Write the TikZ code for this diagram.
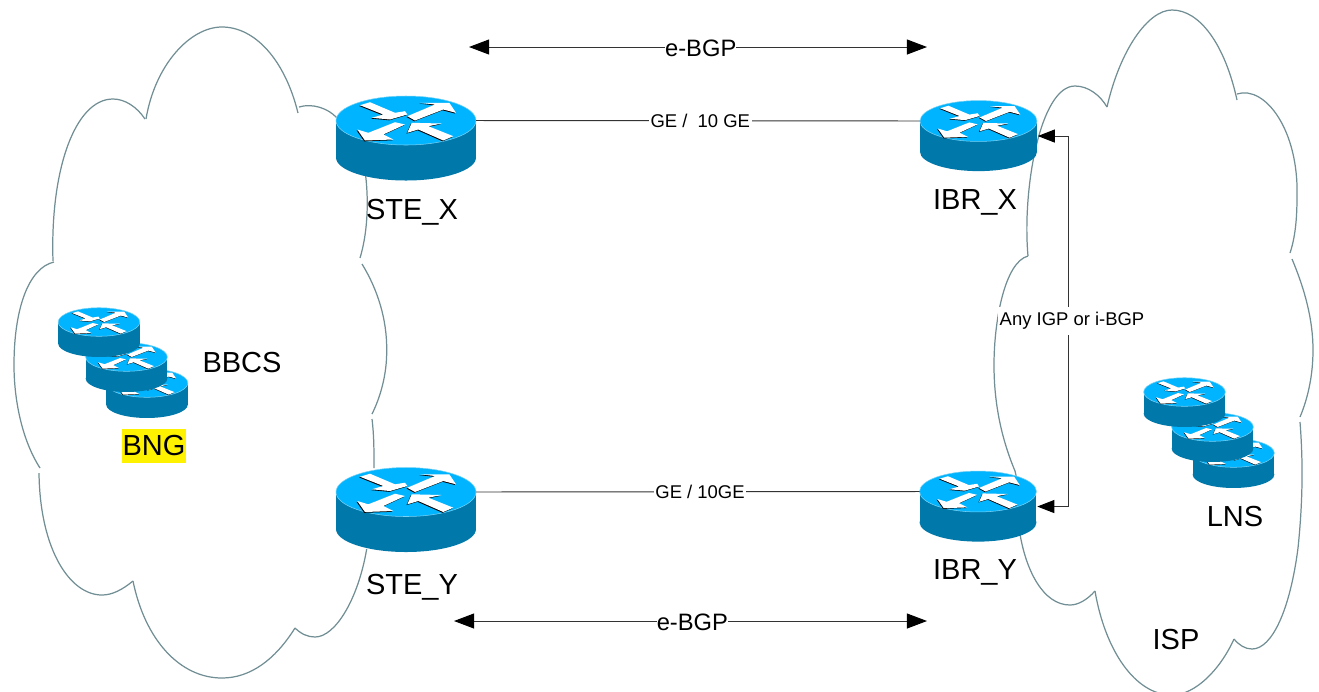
\documentclass[tikz,border=0pt]{standalone}
\usepackage{fontspec}
\setmainfont{Liberation Sans}
\usetikzlibrary{arrows.meta}
\definecolor{cloudgray}{RGB}{112,142,148}
\definecolor{routertop}{RGB}{0,180,255}
\definecolor{routerside}{RGB}{0,120,170}
\definecolor{routerrim}{RGB}{120,210,245}
\tikzset{
	cloudline/.style={draw=cloudgray,line width=.7pt},
	link/.style={draw=black!80,line width=.55pt},
	bgpline/.style={link,{Triangle[length=11.4pt,width=8.5pt,color=black]}-{Triangle[length=11.4pt,width=8.5pt,color=black]}},
	igpline/.style={link,{Triangle[length=9.7pt,width=7.4pt,color=black]}-{Triangle[length=9.7pt,width=7.4pt,color=black]}},
	biglabel/.style={font=\fontsize{16.5}{18}\selectfont,inner sep=0pt},
	bgplabel/.style={font=\fontsize{13.5}{15}\selectfont,fill=white,inner sep=0pt},
	linklabel/.style={font=\fontsize{10.5}{12}\selectfont,fill=white,inner sep=1pt},
	router/.pic={
		\fill[routerside] (-70,0) rectangle (70,37);
		\fill[routerside] (0,37) ellipse [x radius=70,y radius=23];
		\draw[routerrim,line width=.3pt,fill=routertop] (0,0) ellipse [x radius=70,y radius=24.5];
		\foreach \dx/\col in {-.8/black,0/white}{
			\begin{scope}[xshift=\dx*.02cm,yshift=\dx*.02cm]
				\fill[\col] (-46,-15.3) -- (-36,-18.3) -- (-11,-7.7) -- (-1,-9.3) -- (1.3,-6) -- (-16,-1) -- (-34.3,-2.7) -- (-22.7,-6) -- cycle;
				\fill[\col] (1.3,-4.3) -- (29,-16) -- (14,-17.7) -- (43.3,-17.7) -- (50,-7.7) -- (37.3,-11) -- (9,0) -- cycle;
				\fill[\col] (-11,1.7) -- (-1,4) -- (-22.7,14) -- (-12.7,19) -- (-41,20) -- (-48.7,9) -- (-37.7,12.3) -- cycle;
				\fill[\col] (1.3,12.3) -- (5.7,2.3) -- (35.7,3) -- (22.3,5.7) -- (47.3,15.7) -- (37.3,20) -- (12.3,9) -- cycle;
			\end{scope}
		}
		\coordinate (-west) at (-70,0);
		\coordinate (-east) at (70,0);
		\coordinate (-port) at (71,18);
	}
}
\begin{document}
\begin{tikzpicture}[x=.02cm,y=-.02cm]
	\useasboundingbox (0,0) rectangle (1319,691);
	% BBCS cloud
	\draw[cloudline] (53,261) .. controls (50,170) and (75,99) .. (113,99) .. controls (125,99) and (137,107) .. (145,119);
	\draw[cloudline] (146,119) .. controls (155,65) and (190,27) .. (222,27) .. controls (255,27) and (285,60) .. (298,113);
	\draw[cloudline] (299,107) .. controls (312,103) and (328,108) .. (337,118);
	\draw[cloudline] (365.7,176) .. controls (369,205) and (367,235) .. (360,258);
	\draw[cloudline] (362,264) .. controls (378,290) and (387,320) .. (386.7,350) .. controls (387,375) and (380,398) .. (372,414);
	\draw[cloudline] (372,419) .. controls (374,435) and (374,450) .. (374,468);
	\draw[cloudline] (366.7,549) .. controls (358,600) and (335,637) .. (315,637) .. controls (308,637) and (301,634) .. (295,628);
	\draw[cloudline] (295,628) .. controls (275,660) and (250,678) .. (222,678) .. controls (180,678) and (145,640) .. (133,581);
	\draw[cloudline] (133,581) .. controls (122,590) and (112,595) .. (102,595) .. controls (70,595) and (40,550) .. (39,473);
	\draw[cloudline] (40,468) .. controls (22,440) and (14,400) .. (14,365) .. controls (14,310) and (28,268) .. (54,262);
	% ISP cloud
	\draw[cloudline] (1028,256) .. controls (1022,190) and (1040,86) .. (1075,86) .. controls (1088,86) and (1100,95) .. (1107,107);
	\draw[cloudline] (1107,107) .. controls (1120,50) and (1148,10) .. (1172,10) .. controls (1200,10) and (1225,45) .. (1237,100);
	\draw[cloudline] (1237,94) .. controls (1265,85) and (1299,130) .. (1297,197) .. controls (1297,220) and (1295,238) .. (1290,253);
	\draw[cloudline] (1292,259) .. controls (1305,290) and (1313,320) .. (1313,350) .. controls (1313,375) and (1308,398) .. (1300,417);
	\draw[cloudline] (1300,422) .. controls (1303,460) and (1303,500) .. (1298,548) .. controls (1290,610) and (1272,649) .. (1252,649) .. controls (1245,649) and (1239,645) .. (1234,639);
	\draw[cloudline] (1234,639) .. controls (1220,670) and (1195,695) .. (1172,695) .. controls (1135,695) and (1105,650) .. (1095,591);
	\draw[cloudline] (1095,591) .. controls (1087,600) and (1078,605) .. (1070,605) .. controls (1043,605) and (1026,570) .. (1020,534) .. controls (1016,510) and (1020,490) .. (1015,471);
	\draw[cloudline] (1015,471) .. controls (1002,440) and (994,405) .. (994,365) .. controls (994,320) and (1005,262) .. (1028,256);
	% routers
	\pic (stex) at (406,120.5) {router};
	\pic (stey) at (406,492) {router};
	\pic[scale=.835] (ibrx) at (978.5,121) {router};
	\pic[scale=.835] (ibry) at (978,491.5) {router};
	\pic[scale=.583] (bngc) at (147,383) {router};
	\pic[scale=.583] (bngb) at (126.5,357) {router};
	\pic[scale=.583] (bnga) at (99,322) {router};
	\pic[scale=.583] (lnsc) at (1233.5,453) {router};
	\pic[scale=.583] (lnsb) at (1212.5,427) {router};
	\pic[scale=.583] (lnsa) at (1184.5,392) {router};
	% links
	\coordinate (ebgptopl) at (469,47);
	\coordinate (ebgptopr) at (927,47);
	\coordinate (ebgpbotl) at (454,621);
	\coordinate (ebgpbotr) at (927,621);
	\coordinate (igpmid) at (1068,322);
	\draw[link] (stex-east) -- (ibrx-west) node[linklabel,pos=.505] (getop) {GE /\ \ 10 GE};
	\draw[link] (stey-east) -- (ibry-west) node[linklabel,pos=.505] (gebot) {GE / 10GE};
	\draw[bgpline] (ebgptopl) -- (ebgptopr) node[bgplabel,pos=.506,yshift=-.6pt] (ebgptop) {e-BGP};
	\draw[bgpline] (ebgpbotl) -- (ebgpbotr) node[bgplabel,pos=.504,yshift=-.6pt] (ebgpbot) {e-BGP};
	\draw[igpline] (ibrx-port) -| (igpmid) |- (ibry-port);
	\node[linklabel,minimum height=16pt] (igp) at (1072,321) {Any IGP or i-BGP};
	% labels
	\node[biglabel] (stexlabel) at (412,212) {STE\_X};
	\node[biglabel] (steylabel) at (412,587) {STE\_Y};
	\node[biglabel] (ibrxlabel) at (975,202) {IBR\_X};
	\node[biglabel] (ibrylabel) at (975,572) {IBR\_Y};
	\node[biglabel] (bbcs) at (242,363) {BBCS};
	\node[biglabel,fill=yellow,minimum width=36.4pt,minimum height=19.3pt] (bng) at (154,446) {BNG};
	\node[biglabel] (lns) at (1235,517) {LNS};
	\node[biglabel] (isp) at (1176,640) {ISP};
\end{tikzpicture}
\end{document}
